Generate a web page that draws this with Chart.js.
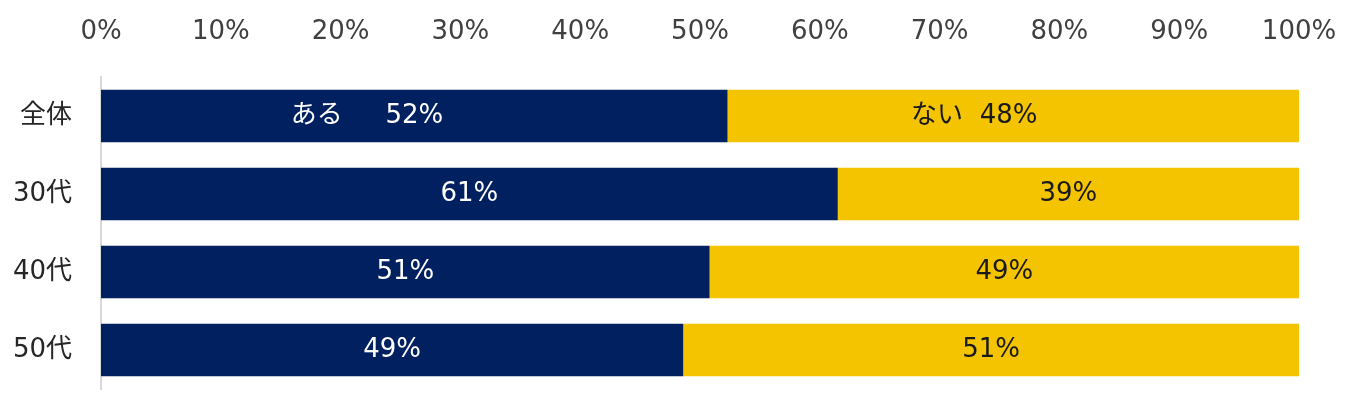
<!DOCTYPE html>
<html>
<head>
<meta charset="utf-8">
<script src="https://cdn.jsdelivr.net/npm/chart.js@4"></script>
<style>
html,body{margin:0;padding:0;background:#fff;}
#wrap{width:1350px;height:398px;position:relative;}
</style>
</head>
<body>
<div id="wrap"><canvas id="c" width="1350" height="398"></canvas></div>
<script>
const categories = ["全体", "30代", "40代", "50代"];
const seriesNames = ["ある", "ない"];
const aruValues = [52.3, 61.5, 50.8, 48.6];
const naiValues = [47.7, 38.5, 49.2, 51.4];
const aruLabels = ["ある\u3000  52%\u3000\u3000\u3000  ", "61%", "51%", "49%"];
const naiLabels = ["ない  48%\u3000\u3000\u3000", "39%", "49%", "51%"];
const tickValues = [0, 10, 20, 30, 40, 50, 60, 70, 80, 90, 100];

const FONT = "'DejaVu Sans', 'Noto Sans CJK JP', sans-serif";

const barLabelPlugin = {
  id: 'barLabels',
  afterDatasetsDraw(chart) {
    const ctx = chart.ctx;
    ctx.save();
    ctx.font = "26px " + FONT;
    ctx.textAlign = 'center';
    ctx.textBaseline = 'middle';
    chart.data.datasets.forEach((ds, di) => {
      const meta = chart.getDatasetMeta(di);
      meta.data.forEach((el, i) => {
        const p = el.getProps(['x', 'y', 'base'], true);
        const cx = (p.x + p.base) / 2;
        ctx.fillStyle = ds.labelColor;
        ctx.fillText(ds.valueLabels[i], cx, p.y);
      });
    });
    ctx.restore();
  }
};

function zeroPad(axis) {
  axis.paddingLeft = 0; axis.paddingRight = 0;
  axis.paddingTop = 0; axis.paddingBottom = 0;
}

new Chart(document.getElementById('c'), {
  type: 'bar',
  data: {
    labels: categories,
    datasets: [
      { label: seriesNames[0], data: aruValues, backgroundColor: '#002060', valueLabels: aruLabels, labelColor: '#ffffff', borderWidth: 0 },
      { label: seriesNames[1], data: naiValues, backgroundColor: '#F5C400', valueLabels: naiLabels, labelColor: '#1a1a1a', borderWidth: 0 }
    ]
  },
  options: {
    indexAxis: 'y',
    responsive: false,
    animation: false,
    layout: { padding: { left: 0, right: 51, top: 0, bottom: 9 } },
    plugins: { legend: { display: false }, tooltip: { enabled: false } },
    datasets: { bar: { categoryPercentage: 1.0, barPercentage: 0.675 } },
    scales: {
      x: {
        position: 'top',
        stacked: true,
        min: 0, max: 100,
        afterBuildTicks(axis) { axis.ticks = tickValues.map(v => ({ value: v })); },
        afterFit(axis) { axis.height = 77; zeroPad(axis); },
        grid: { display: false, drawTicks: false },
        border: { display: false },
        ticks: {
          callback: v => v + '%',
          color: '#404040',
          font: { family: FONT, size: 26 },
          padding: 29,
          maxRotation: 0,
          autoSkip: false
        }
      },
      y: {
        stacked: true,
        afterFit(axis) { axis.width = 101; zeroPad(axis); },
        grid: { display: false, drawTicks: false },
        border: { display: true, color: '#D9D9D9', width: 2 },
        ticks: {
          color: '#262626',
          font: { family: FONT, size: 26 },
          padding: 29
        }
      }
    }
  },
  plugins: [barLabelPlugin]
});
</script>
</body>
</html>
